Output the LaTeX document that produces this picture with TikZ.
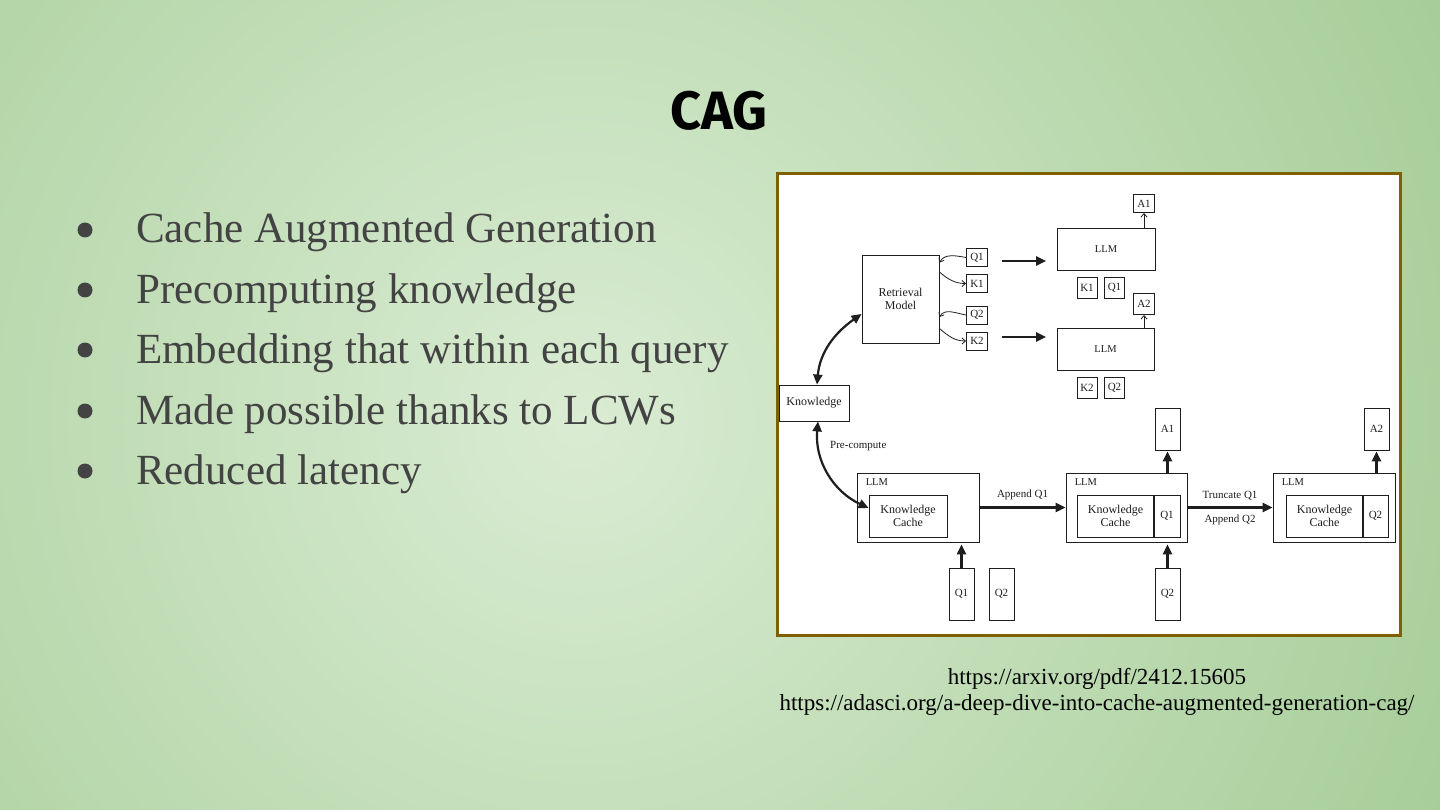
\documentclass[tikz,border=0pt]{standalone}
\usepackage{fontspec}
\usepackage{xcolor}
\usetikzlibrary{arrows.meta,positioning}
\setmainfont{Liberation Serif}
\newfontfamily\titlefont{Fira Sans}

\definecolor{bglight}{HTML}{DAECD3}
\definecolor{bgdark}{HTML}{8CBE7B}
\definecolor{textgray}{HTML}{434343}
\definecolor{framecol}{HTML}{7F6000}
\definecolor{ink}{HTML}{1E1E1E}

\tikzset{
  box/.style={draw=ink, line width=0.9pt, inner sep=0pt, align=center,
    text=ink, font=\fontsize{12}{13.5}\selectfont},
  tok/.style={box, minimum width=21pt, minimum height=18pt,
    font=\fontsize{11}{12}\selectfont},
  heavy/.style={draw=ink, line width=2.4pt, -{Triangle[length=10pt,width=9pt]}},
  twoway/.style={draw=ink, line width=2.2pt,
    {Triangle[length=10pt,width=9pt]}-{Triangle[length=10pt,width=9pt]}},
  light/.style={draw=ink, line width=0.8pt, -{Straight Barb[length=3.5pt,width=6pt]}},
  lbl/.style={text=ink, font=\fontsize{11}{12}\selectfont, inner sep=0pt},
  item/.style={anchor=base west, text=textgray, inner sep=0pt,
    font=\fontsize{43}{50}\selectfont},
  url/.style={anchor=base, text=black, inner sep=0pt,
    font=\fontsize{23}{26}\selectfont},
}

\begin{document}
\begin{tikzpicture}[x=1pt, y=-1pt]
  \useasboundingbox (0,0) rectangle (1440,810);

  % background
  \begin{scope}
    \clip (0,0) rectangle (1440,810);
    \shade[inner color=bglight, outer color=bgdark] (580,420) circle (1450);
  \end{scope}

  % title and bullets
  \node[anchor=base, inner sep=0pt, font=\titlefont\bfseries\fontsize{54}{60}\selectfont]
    (title) at (719,130) {CAG};

  \node[item] (it1) at (136,243) {Cache Augmented Generation};
  \node[item] (it2) at (136,303) {Precomputing knowledge};
  \node[item] (it3) at (136,363) {Embedding that within each query};
  \node[item] (it4) at (136,424) {Made possible thanks to LCWs};
  \node[item] (it5) at (136,484) {Reduced latency};
  \foreach \y in {243,303,363,424,484}
    \fill[textgray] (85,\y-13) circle (7.5);

  % sources
  \node[url] (src1) at (1097,684) {https://arxiv.org/pdf/2412.15605};
  \node[url] (src2) at (1097,710) {https://adasci.org/a-deep-dive-into-cache-augmented-generation-cag/};

  % figure frame
  \draw[framecol, line width=3pt, fill=white] (777.5,173.5) rectangle (1400.5,635.5);

  % retrieval part
  \node[box, minimum width=77, minimum height=88] (ret) at (900.5,299) {Retrieval\\Model};
  \node[tok] (q1) at (977,257.5) {Q1};
  \node[tok] (k1) at (977,283.5) {K1};
  \node[tok] (q2) at (977,315) {Q2};
  \node[tok] (k2) at (977,341) {K2};

  \draw[light] (q1.west) to[out=170, in=60] ([yshift=-5pt]ret.east |- q1);
  \draw[light] ([yshift=2pt]ret.east |- k1.north) to[out=-40, in=180] (k1.west);
  \draw[light] (q2.west) to[out=170, in=60] ([yshift=-2pt]ret.east |- q2);
  \draw[light] ([yshift=3pt]ret.east |- k2.north) to[out=-40, in=180] (k2.west);

  \node[box, minimum width=98, minimum height=42, font=\fontsize{10.5}{12}\selectfont]
    (llmA) at (1106,249) {LLM};
  \node[tok] (a1s) at (1144,203.5) {A1};
  \node[tok, minimum width=20, minimum height=21] (k1b) at (1087,287.5) {K1};
  \node[tok, minimum width=20, minimum height=21] (q1b) at (1114.5,287.5) {Q1};

  \node[box, minimum width=97, minimum height=42, font=\fontsize{10.5}{12}\selectfont]
    (llmB) at (1105.5,349) {LLM};
  \node[tok, minimum height=21] (a2s) at (1144,304) {A2};
  \node[tok, minimum width=20, minimum height=21] (k2b) at (1087,388) {K2};
  \node[tok, minimum width=20, minimum height=21] (q2b) at (1114.5,388) {Q2};

  \coordinate (goA) at (1002,261);
  \coordinate (toA) at (1046,261);
  \coordinate (goB) at (1002,337);
  \coordinate (toB) at (1046,337);
  \draw[heavy] (goA) -- (toA);
  \draw[heavy] (goB) -- (toB);
  \draw[light] (llmA.north -| a1s) -- (a1s.south);
  \draw[light] (llmB.north -| a2s) -- (a2s.south);

  % knowledge source
  \node[box, minimum width=70, minimum height=36] (know) at (814,403) {Knowledge};
  \draw[twoway] ([xshift=3pt]know.north) to[out=85, in=215] ([yshift=-15pt]ret.west);

  % cache augmented part
  \node[box, minimum width=122, minimum height=69] (cag1) at (918,507.5) {};
  \node[box, minimum width=121, minimum height=69] (cag2) at (1126.5,507.5) {};
  \node[box, minimum width=122, minimum height=69] (cag3) at (1334,507.5) {};
  \foreach \c in {cag1,cag2,cag3}
    \node[lbl, anchor=north west, font=\fontsize{10.5}{12}\selectfont]
      at ([xshift=9pt,yshift=-6pt]\c.north west) {LLM};

  \node[box, minimum width=78, minimum height=42] (kc1) at (908,516) {Knowledge\\Cache};
  \node[box, minimum width=77, minimum height=42] (kc2) at (1115.5,516) {Knowledge\\Cache};
  \node[box, minimum width=26, minimum height=42, font=\fontsize{11}{12}\selectfont]
    (qc2) at (1167,516) {Q1};
  \node[box, minimum width=77, minimum height=42] (kc3) at (1324.5,516) {Knowledge\\Cache};
  \node[box, minimum width=25, minimum height=42, font=\fontsize{11}{12}\selectfont]
    (qc3) at (1375.5,516) {Q2};
  \draw[ink, line width=2pt] (kc2.north east) -- (kc2.south east);
  \draw[ink, line width=2pt] (kc3.north east) -- (kc3.south east);

  \draw[twoway] ([xshift=4pt]know.south) to[out=-95, in=155] ([yshift=8pt]kc1.west);
  \node[lbl, anchor=west] (pre) at (830,446) {Pre-compute};

  \node[tok, minimum width=25, minimum height=52] (qa) at (961.5,594) {Q1};
  \node[tok, minimum width=25, minimum height=52] (qb) at (1001.5,594) {Q2};
  \node[tok, minimum width=25, minimum height=52] (qc) at (1167.5,594) {Q2};
  \node[tok, minimum width=25, minimum height=42] (ans1) at (1167.5,429) {A1};
  \node[tok, minimum width=25, minimum height=42] (ans2) at (1376.5,429) {A2};

  \draw[heavy, shorten >=2pt] (qa.north) -- (cag1.south -| qa);
  \draw[heavy, shorten >=2pt] (qc.north) -- (cag2.south -| qc);
  \draw[heavy, shorten >=1pt] (cag2.north -| ans1) -- (ans1.south);
  \draw[heavy, shorten >=1pt] (cag3.north -| ans2) -- (ans2.south);

  \draw[heavy] (cag1.east) -- (cag2.west)
    node[lbl, midway, above=6pt] {Append Q1};
  \draw[heavy] (cag2.east) -- (cag3.west)
    node[lbl, midway, above=6pt] {Truncate Q1}
    node[lbl, midway, below=6pt] {Append Q2};
\end{tikzpicture}
\end{document}
